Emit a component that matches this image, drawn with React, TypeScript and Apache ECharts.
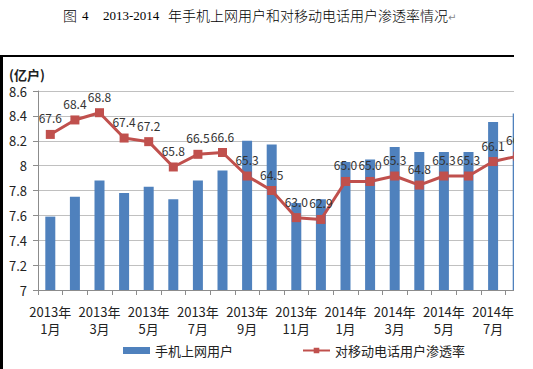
import React, { useEffect, useRef } from "react";
import * as echarts from "echarts";

const categories = [
  "2013年\n1月", "2013年\n2月", "2013年\n3月", "2013年\n4月", "2013年\n5月",
  "2013年\n6月", "2013年\n7月", "2013年\n8月", "2013年\n9月", "2013年\n10月",
  "2013年\n11月", "2013年\n12月", "2014年\n1月", "2014年\n2月", "2014年\n3月",
  "2014年\n4月", "2014年\n5月", "2014年\n6月", "2014年\n7月", "2014年\n8月",
];
const mobileInternetUsers = [
  7.59, 7.75, 7.88, 7.78, 7.83, 7.73, 7.88, 7.96, 8.2, 8.17,
  7.7, 7.73, 8.03, 8.05, 8.15, 8.11, 8.11, 8.11, 8.35, 8.42,
];
const penetrationRate = [
  67.6, 68.4, 68.8, 67.4, 67.2, 65.8, 66.5, 66.6, 65.3, 64.5,
  63.0, 62.9, 65.0, 65.0, 65.3, 64.8, 65.3, 65.3, 66.1, 66.4,
];
const seriesNames = ["手机上网用户", "对移动电话用户渗透率"];

const CJK = "'Noto Sans CJK SC', 'Noto Sans', sans-serif";

export default function App() {
  const ref = useRef<HTMLDivElement>(null);
  useEffect(() => {
    if (!ref.current) return;
    const chart = echarts.init(ref.current, null, { renderer: "svg" });
    chart.setOption({
      animation: false,
      backgroundColor: "#fff",
      textStyle: { fontFamily: CJK },
      grid: { left: 38, right: 3, top: 91, bottom: 79, containLabel: false },
      legend: {
        left: 123,
        top: 344,
        padding: 0,
        itemGap: 69,
        itemWidth: 27,
        itemHeight: 7,
        textStyle: { fontSize: 13, color: "#222", fontFamily: CJK },
        data: [
          { name: seriesNames[0], icon: "rect" },
          { name: seriesNames[1] },
        ],
      },
      xAxis: {
        type: "category",
        data: categories,
        axisLine: { lineStyle: { color: "#8c8c8c", width: 1 } },
        axisTick: { show: true, interval: 0, length: 5, alignWithLabel: false, lineStyle: { color: "#8c8c8c" } },
        axisLabel: { interval: 1, fontSize: 13, lineHeight: 17, margin: 13, color: "#222", fontFamily: CJK },
        splitLine: { show: false },
      },
      yAxis: [
        {
          type: "value",
          min: 7,
          max: 8.6,
          interval: 0.2,
          axisLine: { show: true, lineStyle: { color: "#8c8c8c" } },
          axisTick: { show: true, length: 5, lineStyle: { color: "#8c8c8c" } },
          axisLabel: { fontSize: 13, color: "#222", margin: 11, fontFamily: CJK },
          splitLine: { lineStyle: { color: "#c0c0c0", width: 1 } },
        },
        {
          type: "value",
          min: 59,
          max: 70,
          show: false,
          splitLine: { show: false },
        },
      ],
      series: [
        {
          name: seriesNames[0],
          type: "bar",
          data: mobileInternetUsers,
          barWidth: 10,
          itemStyle: { color: "#4f81bd" },
          z: 2,
        },
        {
          name: seriesNames[1],
          type: "line",
          yAxisIndex: 1,
          data: penetrationRate,
          symbol: "rect",
          symbolSize: 9,
          lineStyle: { color: "#c0504d", width: 3 },
          itemStyle: { color: "#c0504d" },
          label: {
            show: true,
            position: "top",
            distance: 6,
            fontSize: 12,
            color: "#333",
            fontFamily: CJK,
            formatter: (p: any) => Number(p.value).toFixed(1),
          },
          z: 3,
        },
      ],
      graphic: {
        elements: [
          { type: "rect", z: 100, shape: { x: 514, y: 57, width: 19, height: 312 }, style: { fill: "#fff" } },
          { type: "rect", z: 101, shape: { x: 0, y: 55, width: 514, height: 2 }, style: { fill: "#000" } },
          { type: "rect", z: 101, shape: { x: 0, y: 55, width: 3, height: 314 }, style: { fill: "#000" } },
          {
            type: "text", z: 101, x: 9, y: 74,
            style: { text: "(亿户)", fontSize: 13, fontWeight: "bold", fill: "#222", fontFamily: CJK, verticalAlign: "middle" },
          },
          {
            type: "text", z: 101, x: 63, y: 15,
            style: { text: "图", fontSize: 14, fontWeight: 300, fill: "#000", fontFamily: CJK, verticalAlign: "middle" },
          },
          {
            type: "text", z: 101, x: 82, y: 15,
            style: { text: "4", fontSize: 13, fill: "#000", fontFamily: "'Liberation Serif', serif", verticalAlign: "middle" },
          },
          {
            type: "text", z: 101, x: 103, y: 15,
            style: { text: "2013-2014", fontSize: 13, fill: "#000", fontFamily: "'Liberation Serif', serif", verticalAlign: "middle" },
          },
          {
            type: "text", z: 101, x: 168, y: 15,
            style: { text: "年手机上网用户和对移动电话用户渗透率情况", fontSize: 14, fontWeight: 300, fill: "#000", fontFamily: CJK, verticalAlign: "middle" },
          },
          {
            type: "text", z: 101, x: 448, y: 17,
            style: { text: "↵", fontSize: 10, fill: "#888", fontFamily: "'DejaVu Sans', sans-serif", verticalAlign: "middle" },
          },
        ],
      },
    });
    return () => chart.dispose();
  }, []);
  return (
    <div
      ref={ref}
      style={{ position: "fixed", left: 0, top: 0, width: 533, height: 369 }}
    />
  );
}
